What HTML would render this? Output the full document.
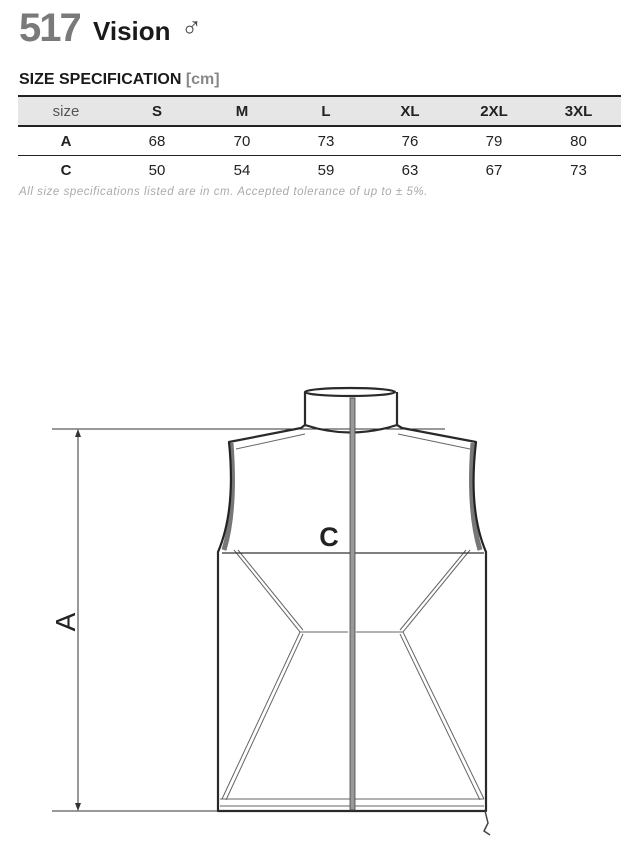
<!DOCTYPE html>
<html><head><meta charset="utf-8"><style>
body{margin:0;width:639px;height:855px;background:#fff;position:relative;font-family:"Liberation Sans",sans-serif;overflow:hidden}
.t{position:absolute;white-space:nowrap}
table{position:absolute;left:18px;top:95px;width:603px;border-collapse:collapse;font-size:15px;color:#222}
td{height:28px;text-align:center;padding:0}
tr.h td{background:#e6e6e6;border-top:2px solid #222;border-bottom:2px solid #222}
tr.r1 td{border-bottom:1px solid #222}
</style></head><body>
<div class="t" style="left:19px;top:6px;font-size:40px;font-weight:bold;color:#7a7a7a;letter-spacing:-2px">517</div>
<div class="t" style="left:93px;top:16px;font-size:26px;font-weight:bold;color:#1a1a1a">Vision</div>
<div class="t" style="left:181px;top:12px;font-size:28px;color:#444">♂</div>
<div class="t" style="left:19px;top:71px;font-size:16px;font-weight:bold;color:#1a1a1a">SIZE SPECIFICATION <span style="color:#888">[cm]</span></div>
<table>
<tr class="h"><td style="width:96px;color:#555">size</td><td style="width:86px"><b>S</b></td><td style="width:84px"><b>M</b></td><td style="width:84px"><b>L</b></td><td style="width:84px"><b>XL</b></td><td style="width:84px"><b>2XL</b></td><td><b>3XL</b></td></tr>
<tr class="r1"><td><b>A</b></td><td>68</td><td>70</td><td>73</td><td>76</td><td>79</td><td>80</td></tr>
<tr><td><b>C</b></td><td>50</td><td>54</td><td>59</td><td>63</td><td>67</td><td>73</td></tr>
</table>
<div class="t" style="left:19px;top:186px;font-size:11.5px;font-style:italic;color:#aaa;letter-spacing:0.55px">All size specifications listed are in cm. Accepted tolerance of up to ± 5%.</div>
<svg width="639" height="855" style="position:absolute;left:0;top:0" fill="none">
<g stroke="#333" stroke-width="1">
<line x1="52" y1="429" x2="445" y2="429"/>
<line x1="52" y1="811" x2="218" y2="811"/>
<line x1="78" y1="433" x2="78" y2="807"/>
</g>
<path d="M78 429 l-3 8 h6z M78 811 l-3 -8 h6z" fill="#333"/>
<text x="0" y="0" transform="translate(75,622) rotate(-90)" font-size="28" text-anchor="middle" fill="#222" font-family="Liberation Sans">A</text>
<path d="M231 443 Q236 510 224 550" stroke="#777" stroke-width="5"/>
<path d="M473 443 Q468 510 480 550" stroke="#777" stroke-width="5"/>
<g stroke="#2a2a2a" stroke-width="2.2" stroke-linejoin="round">
<ellipse cx="350" cy="392" rx="45" ry="4"/>
<path d="M305 392 V425 Q350 440 397 425 V392"/>
<path d="M305 425 L301 428 L229 442 Q236 510 218 552 V811 H486 V552 Q468 510 476 442 L402 428 L397 425"/>
</g>
<path d="M229 442 Q236 510 218 552" stroke="#222" stroke-width="1.5"/>
<path d="M476 442 Q468 510 486 552" stroke="#222" stroke-width="1.5"/>
<g stroke="#666" stroke-width="1">
<path d="M236 449 L305 434 M470 449 L398 434"/>
<path d="M234 550 L300 632 H348 M238 550 L303 630"/>
<path d="M470 550 L403 632 H356 M466 550 L400 630"/>
<path d="M300 632 L222 799 M303 634 L226 800"/>
<path d="M403 632 L484 799 M400 634 L480 800"/>
<path d="M220 799 H484 M220 806 H484"/>
</g>
<line x1="222" y1="553" x2="484" y2="553" stroke="#333" stroke-width="1.2"/>
<rect x="350" y="398" width="5" height="412" fill="#999" stroke="#444" stroke-width="0.8"/>
<path d="M485 811 l3 12 l-4 8 l6 4" stroke="#444" stroke-width="1.5"/>
<text x="329" y="546" font-size="27" font-weight="bold" fill="#222" text-anchor="middle" font-family="Liberation Sans">C</text>
</svg>
</body></html>
